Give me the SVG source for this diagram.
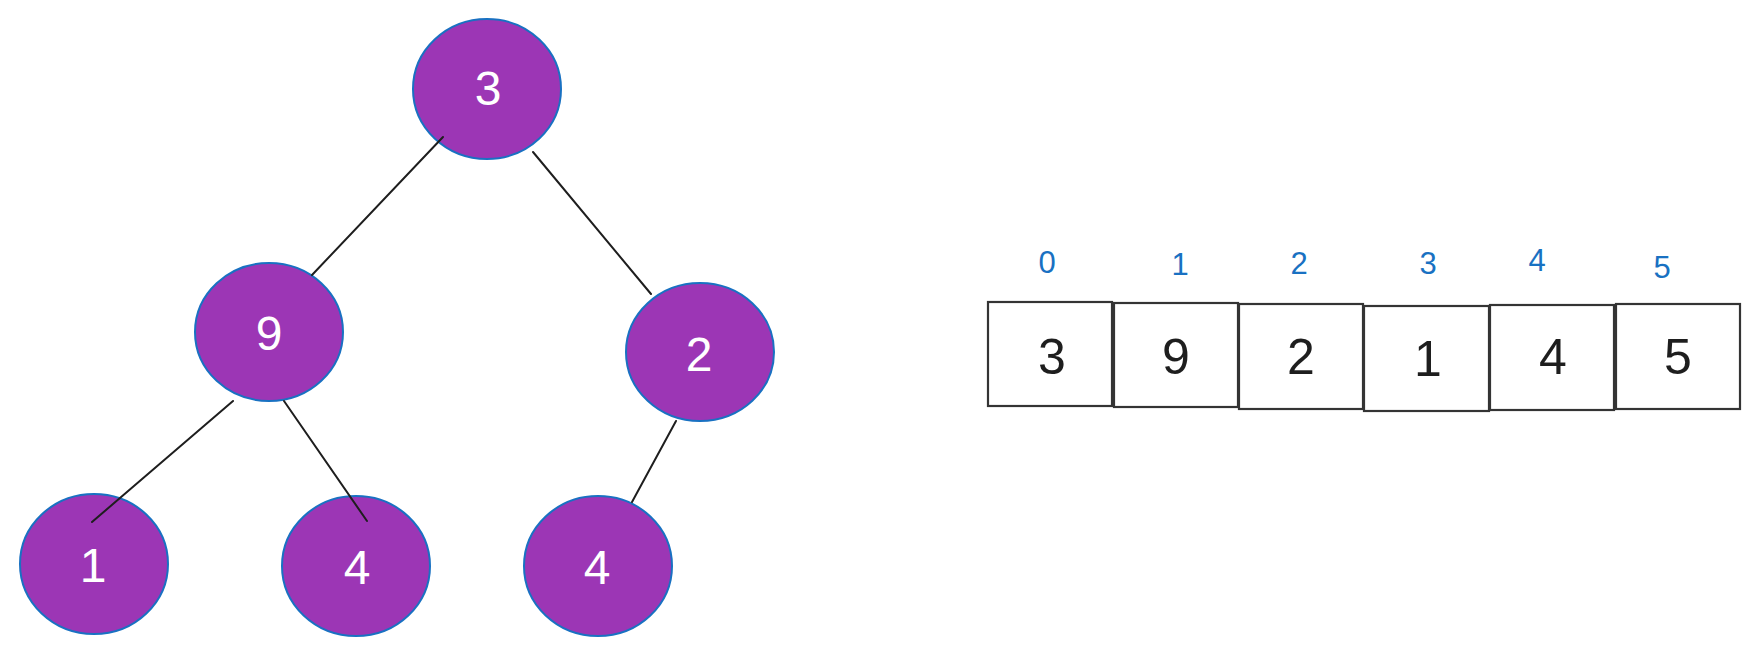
<svg xmlns="http://www.w3.org/2000/svg" width="1760" height="654" viewBox="0 0 1760 654">
<style>
.node ellipse{fill:#9c36b5;stroke:#1971c2;stroke-width:2}
.node text{fill:#ffffff;font-family:"Liberation Sans",sans-serif;font-size:48px;text-anchor:middle;dominant-baseline:central}
.edges line{stroke:#1e1e1e;stroke-width:2;stroke-linecap:round}
.cell rect{fill:#ffffff;stroke:#343434;stroke-width:2.2}
.cell text{fill:#1e1e1e;font-family:"Liberation Sans",sans-serif;font-size:50px;text-anchor:middle;dominant-baseline:central}
.idx{fill:#1971c2;font-family:"Liberation Sans",sans-serif;font-size:31px;text-anchor:middle;dominant-baseline:central}
</style>
<rect width="1760" height="654" fill="#ffffff"/>
<g id="n3" class="node"><ellipse cx="487" cy="89" rx="74" ry="70"/><text x="488" y="88">3</text></g>
<g id="n9" class="node"><ellipse cx="269" cy="332" rx="74" ry="69"/><text x="269" y="333">9</text></g>
<g id="n2" class="node"><ellipse cx="700" cy="352" rx="74" ry="69"/><text x="699" y="354">2</text></g>
<g id="n1" class="node"><ellipse cx="94" cy="564" rx="74" ry="70"/><text x="93" y="565">1</text></g>
<g id="n4a" class="node"><ellipse cx="356" cy="566" rx="74" ry="70"/><text x="357" y="567">4</text></g>
<g id="n4b" class="node"><ellipse cx="598" cy="566" rx="74" ry="70"/><text x="597" y="567">4</text></g>
<g id="edges" class="edges">
<line x1="443" y1="137" x2="312" y2="275"/>
<line x1="533" y1="152" x2="651" y2="294"/>
<line x1="233" y1="401" x2="92" y2="522"/>
<line x1="284" y1="401" x2="367" y2="521"/>
<line x1="676" y1="421" x2="632" y2="502"/>
</g>
<g id="array">
<g id="c0" class="cell"><rect x="988" y="302" width="124" height="104"/><text x="1052" y="357">3</text></g>
<g id="c1" class="cell"><rect x="1114" y="303" width="124" height="104"/><text x="1176" y="357">9</text></g>
<g id="c2" class="cell"><rect x="1239" y="304" width="124" height="105"/><text x="1301" y="357">2</text></g>
<g id="c3" class="cell"><rect x="1364" y="306" width="125" height="105"/><text x="1428" y="359">1</text></g>
<g id="c4" class="cell"><rect x="1490" y="305" width="124" height="105"/><text x="1553" y="357">4</text></g>
<g id="c5" class="cell"><rect x="1616" y="304" width="124" height="105"/><text x="1678" y="357">5</text></g>
</g>
<g id="indices">
<text class="idx" x="1047" y="262">0</text>
<text class="idx" x="1180" y="264">1</text>
<text class="idx" x="1299" y="263">2</text>
<text class="idx" x="1428" y="263">3</text>
<text class="idx" x="1537" y="260">4</text>
<text class="idx" x="1662" y="267">5</text>
</g>
</svg>
